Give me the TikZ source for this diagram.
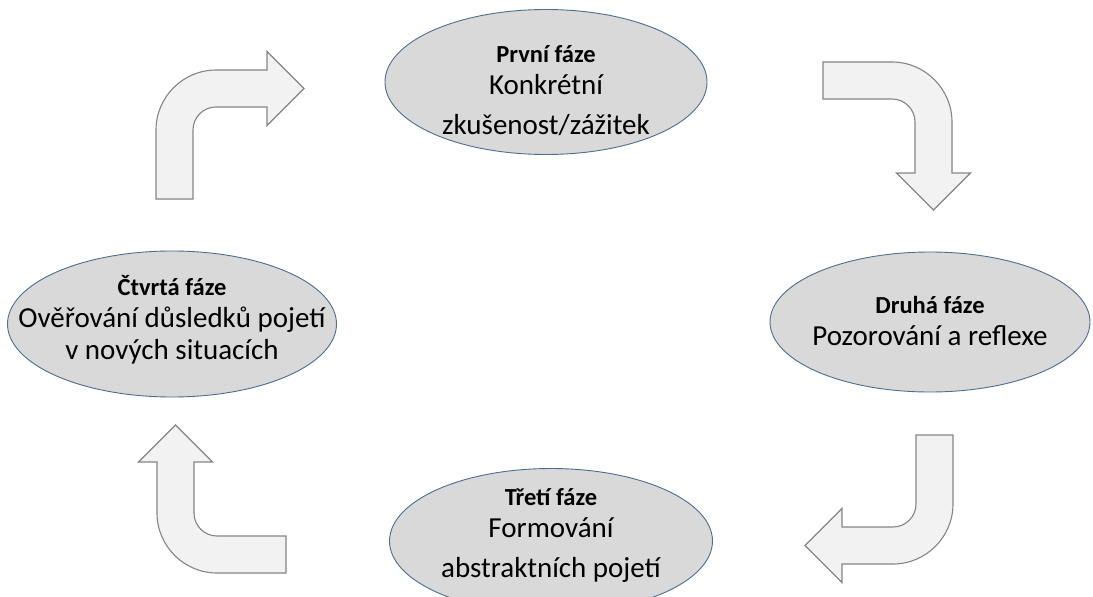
\documentclass[tikz,border=0pt]{standalone}
\usepackage{fontspec}
\setmainfont{Carlito}
\usetikzlibrary{shapes.geometric}

\definecolor{phasefill}{HTML}{D9D9D9}
\definecolor{phaseline}{HTML}{4F6D8F}
\definecolor{arrowfill}{HTML}{F2F2F2}
\definecolor{arrowline}{HTML}{858585}

\tikzset{
  phase/.style={ellipse, draw=phaseline, fill=phasefill, line width=0.9pt, inner sep=0pt},
  phasetext/.style={align=center, inner sep=0pt, text=black,
    font=\fontsize{29}{32}\selectfont},
  arrowshape/.style={draw=arrowline, fill=arrowfill, line width=1.1pt, line join=miter},
  % bent block arrow: outer corner of the bend at the origin, tail pointing down, head pointing right
  bentarrow/.pic={
    \path[arrowshape]
      (0,129) -- (0,60) .. controls (0,27) and (27,0) .. (60,0)
      -- (111,0) -- (111,-18.5) -- (148,18.5) -- (111,55.5) -- (111,37)
      -- (60,37) .. controls (47.3,37) and (37,47.3) .. (37,60)
      -- (37,129) -- cycle;
  }
}
\newcommand{\phasehead}[1]{{\bfseries\fontsize{24.5}{33}\selectfont #1}}

\begin{document}
\begin{tikzpicture}[x=1pt,y=-1pt]
  \useasboundingbox (0,0) rectangle (1093,597);

  % the four phases of the cycle
  \node[phase, minimum width=322pt, minimum height=145pt] (p1) at (546,82) {};
  \node[phase, minimum width=320pt, minimum height=140pt] (p2) at (930,322) {};
  \node[phase, minimum width=323pt, minimum height=145pt] (p3) at (551,541) {};
  \node[phase, minimum width=329pt, minimum height=146pt] (p4) at (172,324) {};

  \node[phasetext] (t1) at ([yshift=-8.5pt]p1.center)
    {\phasehead{První fáze}\\Konkrétní\\[8pt]zkušenost/zážitek};
  \node[phasetext] (t2) at ([yshift=1pt]p2.center)
    {\phasehead{Druhá fáze}\\Pozorování a reflexe};
  \node[phasetext] (t3) at ([yshift=6pt]p3.center)
    {\phasehead{Třetí fáze}\\Formování\\[8pt]abstraktních pojetí};
  \node[phasetext] (t4) at ([yshift=4.5pt]p4.center)
    {\phasehead{Čtvrtá fáze}\\Ověřování důsledků pojetí\\v nových situacích};

  % bent arrows between the phases, clockwise
  \pic at (156,70) {bentarrow};
  \pic[rotate=-90] at (952,62) {bentarrow};
  \pic[rotate=-180] at (953,564) {bentarrow};
  \pic[rotate=90] at (157,573) {bentarrow};
\end{tikzpicture}
\end{document}
